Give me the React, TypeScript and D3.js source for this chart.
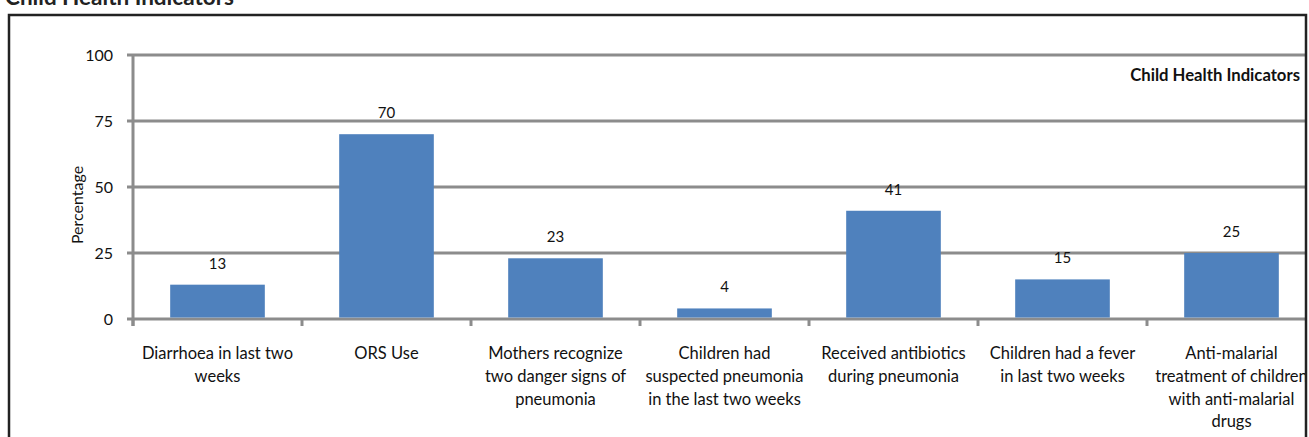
import React from "react";
import * as d3 from "d3";

const title = "Child Health Indicators";
const yAxisTitle = "Percentage";
const categories = [
  "Diarrhoea in last two weeks",
  "ORS Use",
  "Mothers recognize two danger signs of pneumonia",
  "Children had suspected pneumonia in the last two weeks",
  "Received antibiotics during pneumonia",
  "Children had a fever in last two weeks",
  "Anti-malarial treatment of children with anti-malarial drugs",
];
const categoryLines = [
  ["Diarrhoea in last two", "weeks"],
  ["ORS Use"],
  ["Mothers recognize", "two danger signs of", "pneumonia"],
  ["Children had", "suspected pneumonia", "in the last two weeks"],
  ["Received antibiotics", "during pneumonia"],
  ["Children had a fever", "in last two weeks"],
  ["Anti-malarial", "treatment of children", "with anti-malarial", "drugs"],
];
const values = [13, 70, 23, 4, 41, 15, 25];
const yTicks = [0, 25, 50, 75, 100];

const W = 1309;
const H = 437;
const FONT = "Lato, 'Open Sans', sans-serif";

export default function App() {
  const x = d3
    .scaleBand<string>()
    .domain(categories)
    .range([133, 1316])
    .paddingInner(0.44)
    .paddingOuter(0.22);
  const y = d3.scaleLinear().domain([0, 100]).range([319, 55]);
  const step = x.step();
  const bounds = categories.map((_, i) => 133 + i * step);
  bounds.push(133 + categories.length * step);

  return (
    <svg
      width={W}
      height={H}
      style={{ position: "absolute", left: 0, top: 0, background: "#fff" }}
      fontFamily={FONT}
    >
      <defs>
        <clipPath id="frame">
          <rect x={0} y={0} width={1306} height={H} />
        </clipPath>
      </defs>
      <text x={5} y={5} fontSize={22.5} fontWeight="bold" fill="#222">
        {title}
      </text>
      <g clipPath="url(#frame)">
        {yTicks.map((t) => (
          <line
            key={"g" + t}
            x1={127}
            x2={1320}
            y1={y(t)}
            y2={y(t)}
            stroke="#8c8c8c"
            strokeWidth={3}
          />
        ))}
        <line x1={133} x2={133} y1={y(100)} y2={y(0) + 7} stroke="#8c8c8c" strokeWidth={3} />
        {bounds.map((b, i) => (
          <line key={"t" + i} x1={b} x2={b} y1={y(0)} y2={y(0) + 7} stroke="#8c8c8c" strokeWidth={3} />
        ))}
        {categories.map((c, i) => (
          <rect
            key={c}
            x={x(c)}
            width={x.bandwidth()}
            y={y(values[i])}
            height={y(0) - y(values[i]) - 1.5}
            fill="#4f81bd"
          />
        ))}
        {categories.map((c, i) => (
          <text
            key={"v" + c}
            x={(x(c) as number) + x.bandwidth() / 2}
            y={y(values[i]) - 16}
            textAnchor="middle"
            fontSize={15}
            fill="#111"
          >
            {values[i]}
          </text>
        ))}
        {categories.map((c, i) => (
          <text
            key={"l" + c}
            x={(x(c) as number) + x.bandwidth() / 2}
            textAnchor="middle"
            fontSize={16.5}
            fill="#111"
          >
            {categoryLines[i].map((ln, j) => (
              <tspan key={j} x={(x(c) as number) + x.bandwidth() / 2} y={359 + j * 22.8}>
                {ln}
              </tspan>
            ))}
          </text>
        ))}
        <text x={1300} y={81} textAnchor="end" fontSize={16.7} fontWeight="bold" fill="#111">
          {title}
        </text>
      </g>
      {yTicks.map((t) => (
        <text key={"yt" + t} x={113} y={y(t) + 6} textAnchor="end" fontSize={16} fill="#111">
          {t}
        </text>
      ))}
      <text
        transform={`translate(83,${y(50) + 18}) rotate(-90)`}
        textAnchor="middle"
        fontSize={16}
        fill="#111"
      >
        {yAxisTitle}
      </text>
      <polyline
        points={`9,${H + 5} 9,15 1306,15 1306,${H + 5}`}
        fill="none"
        stroke="#222"
        strokeWidth={2.5}
      />
    </svg>
  );
}
